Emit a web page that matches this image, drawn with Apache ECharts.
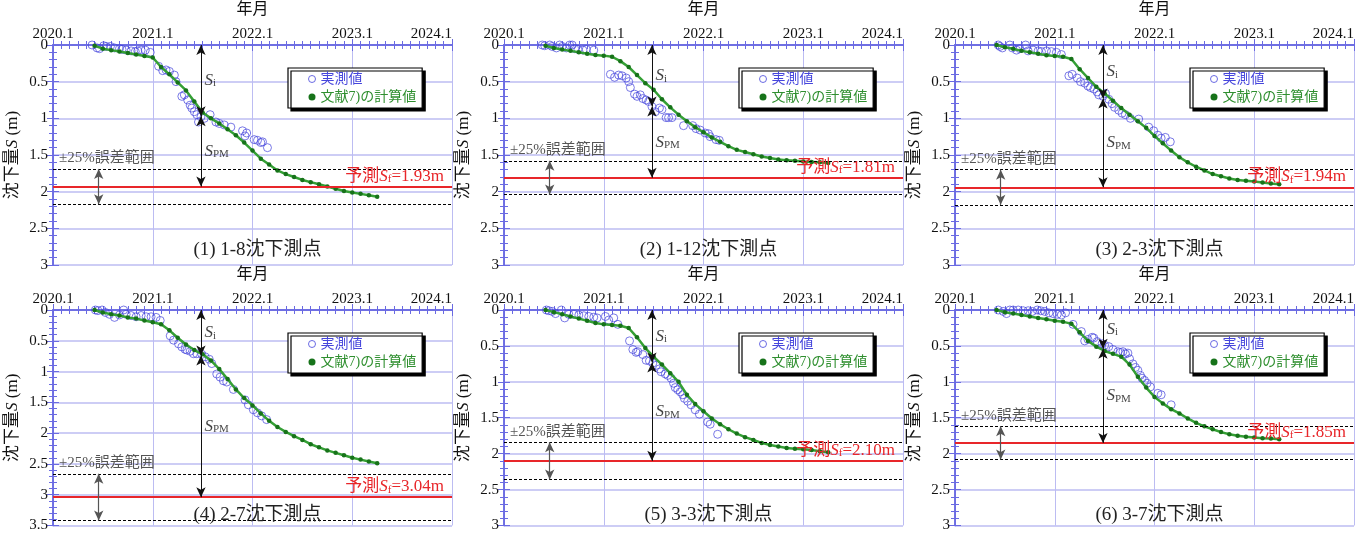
<!DOCTYPE html>
<html>
<head>
<meta charset="utf-8">
<script src="https://cdn.jsdelivr.net/npm/echarts/dist/echarts.min.js"></script>
<style>
  html, body { margin: 0; padding: 0; background: #fff; }
  #chart { width: 1364px; height: 533px; }
</style>
</head>
<body>
<div id="chart"></div>
<script>
// x values are months counted from 2020.1
const xTickLabels = ['2020.1', '2021.1', '2022.1', '2023.1', '2024.1'];
const panelTitles = ['(1) 1-8沈下測点', '(2) 1-12沈下測点', '(3) 2-3沈下測点',
                     '(4) 2-7沈下測点', '(5) 3-3沈下測点', '(6) 3-7沈下測点'];
const yMax = [3, 3, 3, 3.5, 3, 3];

// 予測Sf, ±25%誤差範囲 (upper / lower dotted line), Si at the arrow
const sfVals = [1.93, 1.81, 1.94, 3.04, 2.10, 1.85];
const bandLo = [1.69, 1.58, 1.70, 2.66, 1.84, 1.62];
const bandHi = [2.17, 2.04, 2.18, 3.42, 2.36, 2.08];
const siVals = [0.97, 0.84, 0.73, 0.74, 0.73, 0.54];
const arrowMonth = 17.8;
const bandArrowMonth = 5.5;

// 実測値 [month, S]
const p1Meas = [[4.7,0],[5.3,0.04],[5.6,0.05],[6.1,0.01],[6.4,0.02],[6.9,0.02],[7.4,0.04],[8.0,0.05],[8.3,0.06],[8.8,0.07],
  [9.4,0.08],[9.9,0.09],[10.2,0.08],[10.6,0.07],[11.1,0.07],[11.7,0.10],[12.7,0.29],[13.2,0.35],[13.6,0.34],[14.0,0.36],
  [14.6,0.41],[14.8,0.50],[15.5,0.70],[15.8,0.68],[16.2,0.75],[16.5,0.82],[16.7,0.86],[17.0,0.91],[17.3,0.95],[17.5,1.05],
  [17.8,0.98],[18.2,1.00],[18.9,0.95],[19.6,1.05],[20.0,1.07],[20.6,1.09],[21.4,1.12],[22.8,1.17],[23.1,1.24],[23.3,1.20],
  [24.2,1.29],[24.6,1.30],[25.0,1.33],[25.2,1.32],[25.8,1.40]];
const p2Meas = [[4.6,0],[4.9,0.01],[5.5,0],[5.8,0.02],[6.3,0.04],[6.7,0],[7.0,0.02],[7.5,0.04],[7.9,0],[8.2,0],
  [8.5,0.05],[8.9,0.06],[9.5,0.07],[9.9,0.06],[10.8,0.07],[12.8,0.40],[13.3,0.44],[13.8,0.41],[14.2,0.42],[14.7,0.45],
  [15.0,0.50],[15.2,0.58],[15.7,0.67],[16.0,0.70],[16.4,0.68],[16.7,0.73],[17.1,0.75],[17.4,0.77],[17.8,0.84],[18.2,0.91],
  [18.7,0.86],[19.0,0.88],[19.5,0.99],[19.8,0.99],[20.2,0.99],[21.6,1.10],[22.7,1.10],[23.1,1.14],[23.6,1.16],[24.2,1.20],
  [24.6,1.21],[24.8,1.25],[25.5,1.29],[25.9,1.30]];
const p3Meas = [[5.2,0],[5.4,0.02],[5.7,0.04],[6.6,0],[6.9,0.04],[7.4,0.07],[7.8,0.05],[8.5,0],[8.8,0.08],[9.4,0.07],
  [10.0,0.08],[10.4,0.09],[11.0,0.08],[11.6,0.09],[12.2,0.10],[12.8,0.13],[13.7,0.42],[14.1,0.40],[14.7,0.45],[15.1,0.50],
  [15.6,0.52],[16.0,0.56],[16.3,0.58],[16.7,0.60],[17.1,0.64],[17.3,0.68],[17.8,0.70],[18.1,0.66],[18.5,0.74],[18.9,0.80],
  [19.2,0.85],[19.7,0.89],[20.1,0.93],[20.5,0.95],[21.1,1.00],[22.1,1.01],[23.3,1.12],[23.9,1.17],[24.4,1.23],[24.8,1.27],
  [25.3,1.26],[25.9,1.32]];
const p4Meas = [[5.1,0],[5.4,0.01],[5.9,0],[6.3,0.04],[6.8,0.07],[7.4,0.12],[8.0,0.08],[8.5,0],[8.8,0.07],[9.4,0.09],
  [10.0,0.11],[10.6,0.09],[11.2,0.11],[11.8,0.11],[12.4,0.12],[12.9,0.17],[14.1,0.42],[14.5,0.49],[15.1,0.55],[15.5,0.60],
  [15.9,0.64],[16.1,0.65],[16.5,0.67],[16.9,0.71],[17.3,0.71],[17.9,0.72],[18.3,0.76],[18.8,0.80],[19.1,0.87],[19.7,1.04],
  [20.1,1.09],[20.5,1.15],[20.9,1.17],[21.7,1.29],[23.1,1.46],[23.5,1.54],[24.1,1.62],[24.6,1.67],[25.1,1.72],[25.7,1.78]];
const p5Meas = [[5.1,0],[5.4,0.01],[5.8,0.02],[6.2,0.05],[6.9,0],[7.3,0.11],[7.8,0.06],[8.4,0.06],[9.0,0.07],[9.6,0.08],
  [10.2,0.09],[10.8,0.10],[11.2,0.11],[12.2,0.09],[12.6,0.14],[13.2,0.11],[13.7,0.20],[15.1,0.43],[15.5,0.55],[15.9,0.59],
  [16.1,0.58],[16.7,0.62],[17.1,0.70],[17.5,0.71],[17.9,0.74],[18.3,0.77],[18.7,0.82],[18.9,0.86],[19.4,0.89],[19.7,0.91],
  [20.1,0.95],[20.4,1.02],[20.6,1.08],[20.9,1.11],[21.2,1.14],[21.5,1.18],[21.7,1.23],[22.1,1.27],[22.5,1.32],[23.0,1.39],
  [23.5,1.45],[24.5,1.56],[24.8,1.59],[25.7,1.73]];
const p6Meas = [[5.2,0],[5.8,0.02],[6.2,0.05],[6.6,0],[7.0,0],[7.6,0],[8.2,0.01],[8.8,0.01],[9.3,0.02],[9.9,0],
  [10.3,0.01],[10.8,0.02],[11.3,0.04],[11.8,0.05],[12.3,0.06],[12.8,0.07],[13.3,0.04],[14.2,0.20],[15.2,0.30],[15.6,0.43],
  [16.0,0.41],[16.5,0.38],[16.7,0.39],[17.1,0.44],[17.7,0.47],[18.0,0.49],[18.5,0.51],[19.0,0.55],[19.6,0.58],[19.9,0.59],
  [20.2,0.58],[20.5,0.61],[20.8,0.60],[21.0,0.68],[21.4,0.75],[21.7,0.80],[22.0,0.84],[22.3,0.91],[22.5,0.95],[22.8,0.98],
  [23.1,1.02],[23.5,1.07],[24.4,1.16],[24.8,1.18],[26.0,1.32]];

// 文献7)の計算値, one value per month
const calcMonths = [5,6,7,8,9,10,11,12,13,14,15,16,17,18,19,20,21,22,23,24,25,26,27,28,29,30,31,32,33,34,35,36,37,38,39];
const p1Calc = [0.01,0.05,0.07,0.09,0.11,0.13,0.15,0.17,0.30,0.40,0.51,0.62,0.77,0.92,1.00,1.07,
  1.15,1.23,1.33,1.44,1.55,1.63,1.71,1.76,1.80,1.84,1.87,1.90,1.93,1.96,1.99,2.01,2.03,2.05,2.07];
const p2Calc = [0.01,0.04,0.06,0.08,0.10,0.12,0.135,0.145,0.16,0.22,0.30,0.41,0.52,0.61,0.74,0.85,
  0.95,1.04,1.12,1.19,1.26,1.32,1.38,1.43,1.46,1.49,1.52,1.54,1.56,1.57,1.58,1.59,1.595,1.60,1.61];
const p3Calc = [0.0,0.03,0.05,0.08,0.10,0.12,0.14,0.15,0.16,0.19,0.33,0.45,0.57,0.66,0.76,0.86,
  0.95,1.04,1.13,1.24,1.34,1.44,1.53,1.60,1.66,1.71,1.76,1.79,1.82,1.84,1.85,1.86,1.875,1.89,1.90];
const p4Calc = [0.0,0.04,0.07,0.09,0.12,0.14,0.17,0.20,0.23,0.33,0.45,0.56,0.65,0.72,0.82,0.96,
  1.12,1.29,1.43,1.55,1.68,1.80,1.90,1.98,2.05,2.11,2.18,2.23,2.28,2.32,2.36,2.40,2.43,2.46,2.49];
const p5Calc = [0.0,0.03,0.06,0.09,0.12,0.15,0.18,0.20,0.21,0.22,0.25,0.38,0.53,0.65,0.76,0.88,
  1.00,1.18,1.31,1.41,1.51,1.59,1.66,1.72,1.77,1.81,1.85,1.88,1.90,1.92,1.93,1.94,1.95,1.965,1.98];
const p6Calc = [0.0,0.03,0.05,0.07,0.09,0.11,0.13,0.15,0.165,0.19,0.31,0.43,0.51,0.57,0.61,0.65,
  0.76,0.93,1.08,1.21,1.30,1.38,1.44,1.51,1.57,1.62,1.66,1.70,1.73,1.75,1.765,1.775,1.785,1.79,1.80];

const measList = [p1Meas, p2Meas, p3Meas, p4Meas, p5Meas, p6Meas];
const calcList = [p1Calc, p2Calc, p3Calc, p4Calc, p5Calc, p6Calc];

const FONT = '"Liberation Serif", "Noto Sans CJK JP", serif';
const frameColor = '#6a6ae2';
const gridColor = '#bcbcf2';
const measColor = '#4646dc';
const calcColor = '#2f8f2f';
const gridLefts = [53, 504, 955];
const gridTops = [45, 310];
const gridW = 399, gridH = 220;

const subRich = {
  it: { fontStyle: 'italic', fontSize: 17, fontFamily: FONT },
  sub: { fontSize: 11, fontFamily: FONT, verticalAlign: 'bottom', padding: [6, 0, 0, 0] }
};

const grids = [], xAxes = [], yAxes = [], series = [], legends = [], titles = [];

panelTitles.forEach((title, i) => {
  const left = gridLefts[i % 3];
  const top = gridTops[Math.floor(i / 3)];
  grids.push({ left: left, top: top, width: gridW, height: gridH });

  const tickStyle = { lineStyle: { color: frameColor, width: 1 } };
  const xBase = {
    gridIndex: i, type: 'value', min: 0, max: 48, interval: 12,
    axisLine: { show: true, lineStyle: { color: frameColor, width: 1.5 } },
    axisTick: Object.assign({ inside: true, length: 6 }, tickStyle),
    minorTick: Object.assign({ show: true, splitNumber: 12, length: 4 }, tickStyle)
  };
  xAxes.push(Object.assign({}, xBase, {
    position: 'top',
    name: '年月', nameLocation: 'middle', nameGap: 27,
    nameTextStyle: { fontFamily: FONT, fontSize: 16, color: '#111' },
    axisLabel: { formatter: v => xTickLabels[v / 12], fontFamily: FONT, fontSize: 15, color: '#111', margin: 3, alignMaxLabel: 'right' },
    splitLine: { show: true, lineStyle: { color: gridColor, width: 1 } }
  }));
  xAxes.push(Object.assign({}, xBase, {
    position: 'bottom', axisLabel: { show: false }, splitLine: { show: false }
  }));

  const yBase = {
    gridIndex: i, type: 'value', inverse: true, min: 0, max: yMax[i], interval: 0.5,
    axisLine: { show: true, lineStyle: { color: frameColor, width: 1.5 } },
    axisTick: Object.assign({ inside: true, length: 6 }, tickStyle),
    minorTick: Object.assign({ show: true, splitNumber: 5, length: 4 }, tickStyle)
  };
  yAxes.push(Object.assign({}, yBase, {
    position: 'left',
    name: '沈下量{it|S} (m)', nameLocation: 'middle', nameGap: 32,
    nameTextStyle: { fontFamily: FONT, fontSize: 17, color: '#111', rich: { it: { fontStyle: 'italic', fontSize: 17, fontFamily: FONT } } },
    axisLabel: { fontFamily: FONT, fontSize: 15, color: '#111', margin: 5 },
    splitLine: { show: true, lineStyle: { color: gridColor, width: 1.5 } }
  }));
  yAxes.push(Object.assign({}, yBase, {
    position: 'right', axisLabel: { show: false }, splitLine: { show: false }
  }));

  const xi = i * 2, yi = i * 2;
  const sf = sfVals[i], si = siVals[i];

  series.push({
    name: '実測値', type: 'scatter', xAxisIndex: xi, yAxisIndex: yi,
    data: measList[i], symbol: 'circle', symbolSize: 8,
    itemStyle: { color: 'rgba(255,255,255,0)', borderColor: measColor, borderWidth: 0.9 }, z: 3
  });

  series.push({
    name: '文献7)の計算値', type: 'line', xAxisIndex: xi, yAxisIndex: yi,
    data: calcMonths.map((m, k) => [m, calcList[i][k]]),
    symbol: 'circle', symbolSize: 4.5, showSymbol: true,
    lineStyle: { color: '#35a035', width: 2.5 },
    itemStyle: { color: '#17731a' }, z: 4,
    markLine: {
      silent: true, symbol: 'none', animation: false,
      data: [
        { yAxis: sf, lineStyle: { color: '#e8262a', width: 2, type: 'solid' },
          label: { show: true, position: 'insideEndTop', distance: [8, 2],
                   formatter: '予測{it|S}{sub|f}=' + sf.toFixed(2) + 'm',
                   color: '#e8262a', fontFamily: FONT, fontSize: 17, rich: subRich } },
        { yAxis: bandLo[i], lineStyle: { color: '#000', width: 1.2, type: [3, 2] },
          label: { show: true, position: 'insideStartTop', distance: [6, 3],
                   formatter: '±25%誤差範囲', color: '#555', fontFamily: FONT, fontSize: 15 } },
        { yAxis: bandHi[i], lineStyle: { color: '#000', width: 1.2, type: [3, 2] }, label: { show: false } }
      ]
    }
  });

  series.push({
    name: 'annotation', type: 'scatter', xAxisIndex: xi, yAxisIndex: yi,
    symbolSize: 1, itemStyle: { color: 'rgba(0,0,0,0)' }, silent: true, z: 5,
    data: [
      { value: [arrowMonth, si / 2], label: { formatter: '{it|S}{sub|i}' } },
      { value: [arrowMonth, (si + sf) / 2], label: { formatter: '{it|S}{sub|PM}' } }
    ],
    label: { show: true, position: 'right', distance: 3, color: '#111', fontFamily: FONT, fontSize: 17, rich: subRich },
    markLine: {
      silent: true, animation: false, symbol: ['arrow', 'arrow'], symbolSize: [7, 10],
      label: { show: false },
      lineStyle: { color: '#111', width: 1, type: 'solid' },
      data: [
        [{ coord: [arrowMonth, 0] }, { coord: [arrowMonth, si] }],
        [{ coord: [arrowMonth, si] }, { coord: [arrowMonth, sf] }],
        [{ coord: [bandArrowMonth, bandLo[i]], lineStyle: { color: '#555', width: 1.2 } }, { coord: [bandArrowMonth, bandHi[i]] }]
      ]
    }
  });

  legends.push({
    left: left + 235, top: top + 23, orient: 'vertical',
    selectedMode: false,
    data: [
      { name: '実測値', icon: 'circle', textStyle: { color: measColor },
        itemStyle: { color: '#fff', borderColor: measColor, borderWidth: 1 } },
      { name: '文献7)の計算値', icon: 'circle', textStyle: { color: calcColor },
        itemStyle: { color: '#17731a', borderWidth: 0 } }
    ],
    itemWidth: 7, itemHeight: 7, itemGap: 4,
    padding: [4, 6, 4, 20],
    backgroundColor: '#fff', borderColor: '#000', borderWidth: 1.2,
    shadowColor: '#000', shadowBlur: 0, shadowOffsetX: 3, shadowOffsetY: 3,
    textStyle: { fontFamily: FONT, fontSize: 14 }
  });

  titles.push({
    text: title, left: left + gridW / 2, top: top + 191, textAlign: 'center',
    textStyle: { fontFamily: FONT, fontSize: 19, fontWeight: 'normal', color: '#222' }
  });
});

const chart = echarts.init(document.getElementById('chart'));
chart.setOption({
  animation: false,
  backgroundColor: '#fff',
  title: titles,
  legend: legends,
  grid: grids,
  xAxis: xAxes,
  yAxis: yAxes,
  series: series
});
</script>
</body>
</html>
